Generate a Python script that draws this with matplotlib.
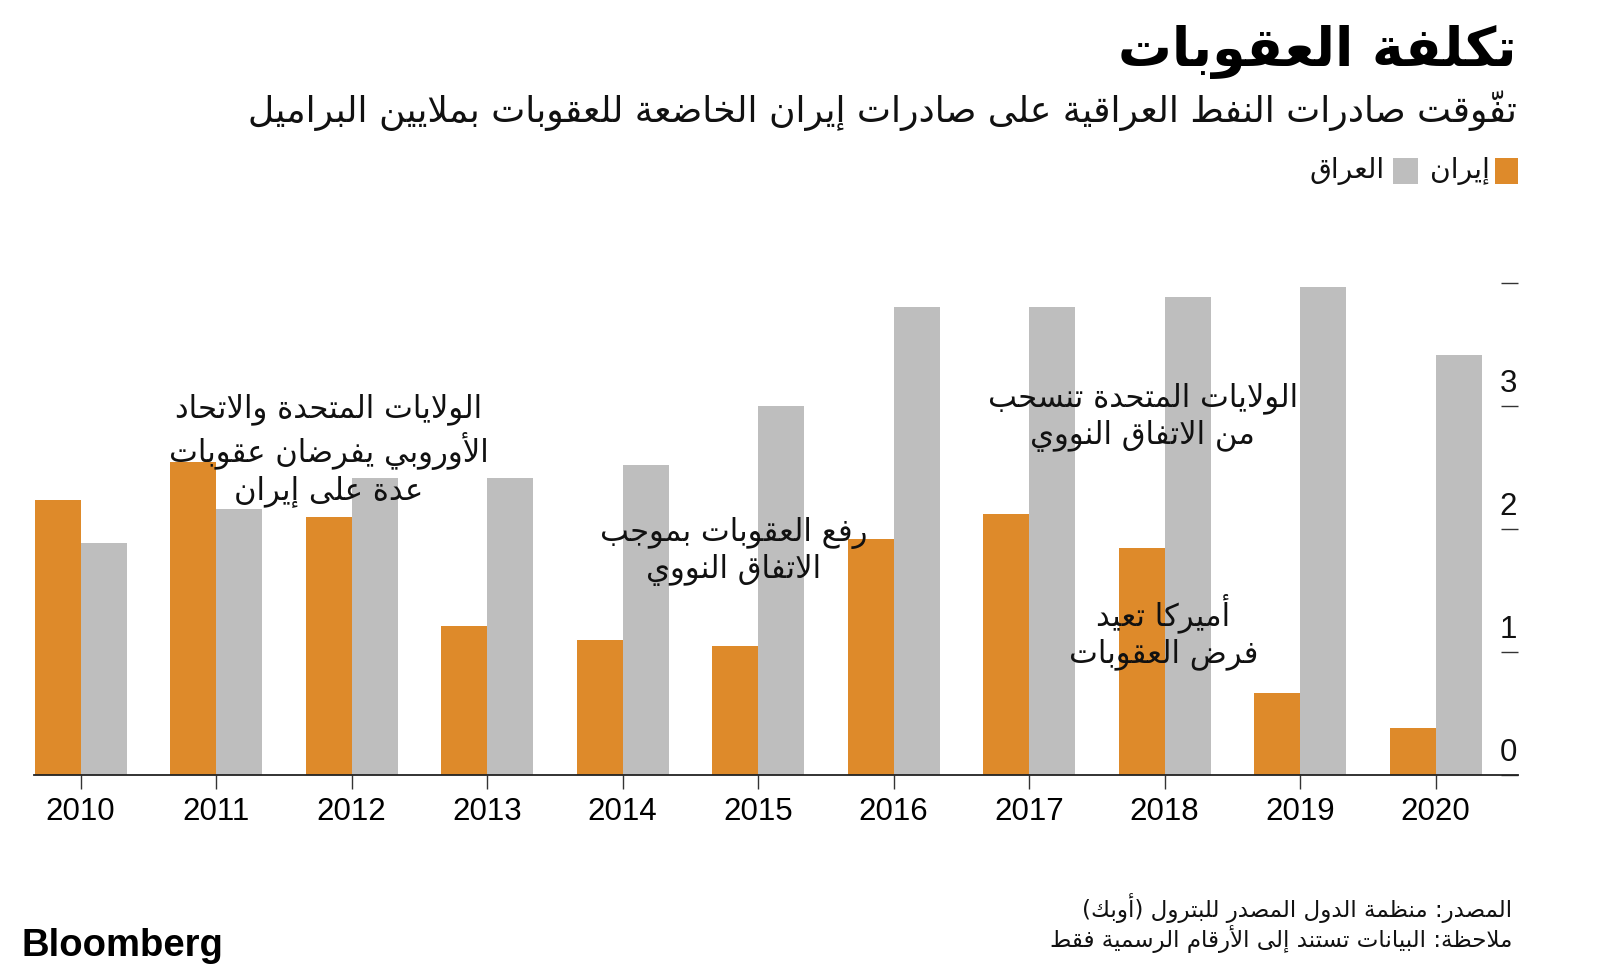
import matplotlib
matplotlib.use('Agg')
import matplotlib.pyplot as plt
import numpy as np
from matplotlib.patches import Rectangle

# ---------------- data ----------------
years = [2010, 2011, 2012, 2013, 2014, 2015, 2016, 2017, 2018, 2019, 2020]
iran = [2.24, 2.55, 2.10, 1.21, 1.10, 1.05, 1.92, 2.12, 1.85, 0.67, 0.38]
iraq = [1.89, 2.16, 2.42, 2.42, 2.52, 3.00, 3.81, 3.81, 3.89, 3.97, 3.42]
ytick_vals = [0, 1, 2, 3, 4]
ytick_labels = ['0', '1', '2', '3', '']
series_names = ['إيران', 'العراق']

title = 'تكلفة العقوبات'
subtitle = 'تفوّقت صادرات النفط العراقية على صادرات إيران الخاضعة للعقوبات بملايين البراميل'
annot_texts = [
    'الولايات المتحدة والاتحاد\nالأوروبي يفرضان عقوبات\nعدة على إيران',
    'رفع العقوبات بموجب\nالاتفاق النووي',
    'الولايات المتحدة تنسحب\nمن الاتفاق النووي',
    'أميركا تعيد\nفرض العقوبات',
]
annot_pos = [(2011.83, 2.64), (2014.82, 1.82), (2017.84, 2.91), (2017.99, 1.17)]
source_text = 'المصدر: منظمة الدول المصدر للبترول (أوبك)\nملاحظة: البيانات تستند إلى الأرقام الرسمية فقط'

ORANGE = '#DE8A2A'
GRAY = '#BEBEBE'

# ---------------- minimal Arabic shaping ----------------
_forms_list = [('ء', 1), ('آ', 2), ('أ', 2), ('ؤ', 2), ('إ', 2), ('ئ', 4), ('ا', 2), ('ب', 4),
               ('ة', 2), ('ت', 4), ('ث', 4), ('ج', 4), ('ح', 4), ('خ', 4), ('د', 2), ('ذ', 2),
               ('ر', 2), ('ز', 2), ('س', 4), ('ش', 4), ('ص', 4), ('ض', 4), ('ط', 4), ('ظ', 4),
               ('ع', 4), ('غ', 4), ('ف', 4), ('ق', 4), ('ك', 4), ('ل', 4), ('م', 4), ('ن', 4),
               ('ه', 4), ('و', 2), ('ى', 2), ('ي', 4)]
FORMS = {}
_cp = 0xFE80
for _ch, _n in _forms_list:
    FORMS[_ch] = [chr(_cp + i) for i in range(_n)]
    _cp += _n
LAMALEF = {'آ': (0xFEF5, 0xFEF6), 'أ': (0xFEF7, 0xFEF8), 'إ': (0xFEF9, 0xFEFA), 'ا': (0xFEFB, 0xFEFC)}
MARKS = set(chr(c) for c in range(0x064B, 0x0653))
MIRROR = {'(': ')', ')': '(', '[': ']', ']': '['}


def shape_line(text):
    items = []
    for c in text:
        if c in MARKS and items:
            items[-1][1].append(c)
        else:
            items.append([c, []])
    res = []
    prev_connects = False
    i = 0
    n = len(items)
    while i < n:
        c, marks = items[i]
        if c not in FORMS:
            res.append(MIRROR.get(c, c) + ''.join(marks))
            prev_connects = False
            i += 1
            continue
        nxt = items[i + 1][0] if i + 1 < n else None
        if c == 'ل' and nxt in LAMALEF:
            g = chr(LAMALEF[nxt][1] if prev_connects else LAMALEF[nxt][0])
            res.append(g + ''.join(marks + items[i + 1][1]))
            prev_connects = False
            i += 2
            continue
        forms = FORMS[c]
        next_joinable = nxt is not None and nxt in FORMS and len(FORMS[nxt]) >= 2
        connect_next = len(forms) == 4 and next_joinable
        if len(forms) == 1:
            g = forms[0]
        elif prev_connects and connect_next:
            g = forms[3]
        elif prev_connects:
            g = forms[1]
        elif connect_next:
            g = forms[2]
        else:
            g = forms[0]
        res.append(g + ''.join(marks))
        prev_connects = connect_next
        i += 1
    return ''.join(reversed(res))


def ar(text):
    return '\n'.join(shape_line(l) for l in text.split('\n'))


# ---------------- figure ----------------
plt.rcParams['font.family'] = ['DejaVu Sans']
W, H = 1600, 973
fig = plt.figure(figsize=(W / 100, H / 100), dpi=100)
fig.patch.set_facecolor('white')

def fx(x):
    return x / W

def fy(y):
    return 1 - y / H

ax = fig.add_axes([fx(34), fy(775), fx(1518) - fx(34), fy(283.3) - fy(775)])
x = np.array(years, dtype=float)
bw = 0.34
ax.bar(x - bw, iran, width=bw, align='edge', color=ORANGE, zorder=2, label=series_names[0])
ax.bar(x, iraq, width=bw, align='edge', color=GRAY, zorder=2, label=series_names[1])
ax.set_xlim(2009.656, 2020.608)
ax.set_ylim(0, 4)

for s in ['top', 'left', 'right']:
    ax.spines[s].set_visible(False)
ax.spines['bottom'].set_color('#222222')
ax.spines['bottom'].set_linewidth(1.3)
ax.spines['bottom'].set_zorder(3)

ax.set_xticks(x)
ax.set_xticklabels([str(y) for y in years], fontfamily='Liberation Sans', fontsize=22.5)
ax.tick_params(axis='x', direction='out', length=10, width=1, color='#333333', pad=6)

ax.yaxis.tick_right()
ax.set_yticks(ytick_vals)
ax.tick_params(axis='y', direction='in', length=12.5, width=1, color='#333333',
               labelright=False, labelleft=False, right=True, left=False)
for v, lab in zip(ytick_vals, ytick_labels):
    ax.annotate(lab, xy=(0.9935, v), xycoords=('axes fraction', 'data'),
                xytext=(0, 5), textcoords='offset points', ha='center', va='bottom',
                fontfamily='Liberation Sans', fontsize=22.5, color='#111111')

renderer = fig.canvas.get_renderer()


def fit(t, target_w):
    bb = t.get_window_extent(renderer)
    t.set_fontsize(t.get_fontsize() * target_w / bb.width)
    return t.get_fontsize()


# annotations
annots = []
for txt, (ax_x, ax_y) in zip(annot_texts, annot_pos):
    t = ax.text(ax_x, ax_y, ar(txt), ha='center', va='center', multialignment='center',
                fontsize=20, color='#111111', zorder=5, linespacing=1.22)
    annots.append(t)
probe = fig.text(0, 0, ar('الأوروبي يفرضان عقوبات'), fontsize=20)
afs = fit(probe, 319)
probe.remove()
for t in annots:
    t.set_fontsize(afs)

# title / subtitle
tt = fig.text(fx(1517), fy(52), ar(title), ha='right', va='center', fontweight='bold',
              fontsize=40, color='#000000')
fit(tt, 398)
st = fig.text(fx(1517), fy(111), ar(subtitle), ha='right', va='center', fontsize=24,
              color='#111111')
fit(st, 1276)

# legend (right-to-left)
leg_y = 171
fig.patches.append(Rectangle((fx(1495), fy(184)), fx(23), fy(158) - fy(184), transform=fig.transFigure,
                             facecolor=ORANGE, edgecolor='none'))
fig.patches.append(Rectangle((fx(1393), fy(184)), fx(25), fy(158) - fy(184), transform=fig.transFigure,
                             facecolor=GRAY, edgecolor='none'))
l1 = fig.text(fx(1490), fy(leg_y), ar(series_names[0]), ha='right', va='center', fontsize=20, color='#111111')
fit(l1, 60)
l2 = fig.text(fx(1385), fy(leg_y), ar(series_names[1]), ha='right', va='center', fontsize=20, color='#111111')
l2.set_fontsize(l1.get_fontsize())

# source
src = fig.text(fx(1512), fy(923), ar(source_text), ha='right', va='center', multialignment='right',
               fontsize=16, color='#111111', linespacing=1.05)
probe = fig.text(0, 0, ar('ملاحظة: البيانات تستند إلى الأرقام الرسمية فقط'), fontsize=16)
sfs = fit(probe, 464)
probe.remove()
src.set_fontsize(sfs)

# Bloomberg
bl = fig.text(fx(22), fy(946), 'Bloomberg', ha='left', va='center', fontfamily='Liberation Sans',
              fontweight='bold', fontsize=28, color='#000000')
fit(bl, 202)

fig.savefig('out.png', dpi=100, facecolor='white')
